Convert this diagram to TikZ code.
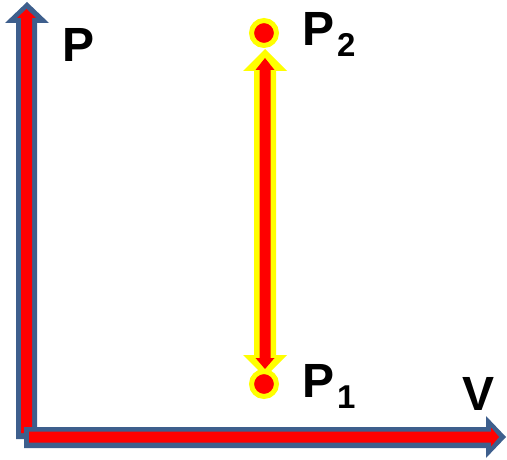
\documentclass[tikz,border=0pt]{standalone}
\usepackage{fontspec}
\setmainfont{Liberation Sans}
\definecolor{axisblue}{HTML}{3E5F8D}
\definecolor{pred}{HTML}{FF0000}
\definecolor{pyel}{HTML}{FFFF00}
\tikzset{
  axisouter/.style={fill=axisblue, draw=none},
  arrowred/.style={fill=pred, draw=none},
  pathouter/.style={fill=pyel, draw=none},
  dotstyle/.style={circle, fill=pred, draw=pyel, line width=5pt, minimum size=25pt, inner sep=0pt},
  lbl/.style={font=\fontsize{48}{48}\selectfont\bfseries, anchor=base west, inner sep=0pt},
}
\newcommand{\subtxt}[1]{\kern3pt\raisebox{-11pt}{\fontsize{33}{33}\selectfont #1}}
\begin{document}
\begin{tikzpicture}[x=1pt,y=-1pt]
\useasboundingbox (0,0) rectangle (507,460);
% vertical axis
\fill[axisouter] (16,439) -- (16,23) -- (5,23) -- (27,2) -- (49,23) -- (37,23) -- (37,439) -- cycle;
\fill[arrowred] (21,433) -- (21,18) -- (17,18) -- (26.5,9) -- (36,18) -- (32,18) -- (32,433) -- cycle;
% horizontal axis
\fill[axisouter] (24,427) -- (486,427) -- (486,416) -- (506,437) -- (486,458) -- (486,448) -- (24,448) -- cycle;
\fill[arrowred] (29,431.5) -- (491,431.5) -- (491,427.5) -- (499,437) -- (491,446.5) -- (491,442.5) -- (29,442.5) -- cycle;
% double arrow
\fill[pathouter] (254,71) -- (243,71) -- (265,49) -- (287,71) -- (276,71) -- (276,355) -- (287,355) -- (265,377) -- (243,355) -- (254,355) -- cycle;
\fill[arrowred] (259.5,70) -- (255.5,70) -- (265,58) -- (274.5,70) -- (270.5,70) -- (270.5,358) -- (274.5,358) -- (265,369) -- (255.5,358) -- (259.5,358) -- cycle;
% dots
\node[dotstyle] (p2) at (264,33) {};
\node[dotstyle] (p1) at (264,384) {};
% labels
\node[lbl] (lp) at (62,62) {P};
\node[lbl] (lv) at (462,410) {V};
\node[lbl] (lp2) at (302,46) {P\subtxt{2}};
\node[lbl] (lp1) at (302,397) {P\subtxt{1}};
\end{tikzpicture}
\end{document}
